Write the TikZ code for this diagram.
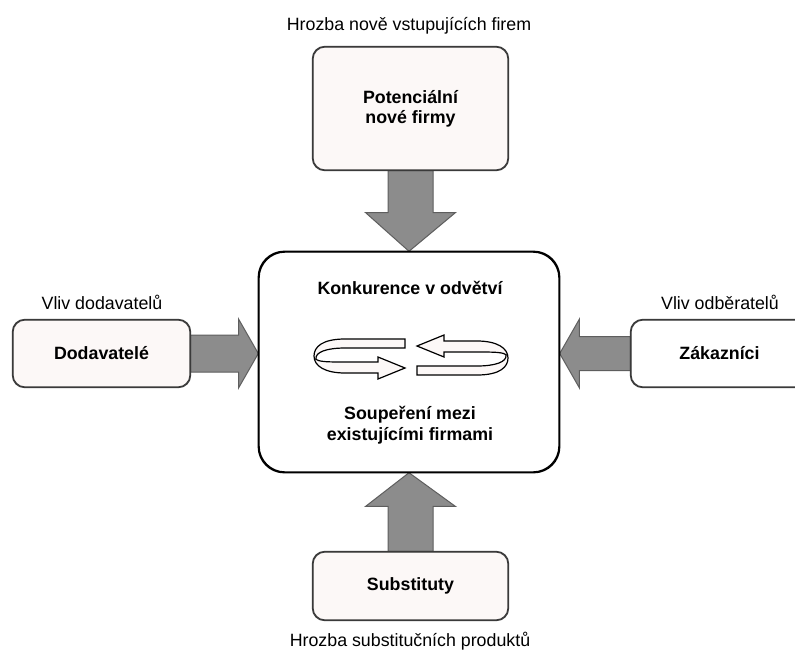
\documentclass[tikz,border=0pt]{standalone}
\usepackage{fontspec}
\setmainfont{Liberation Sans}
\usetikzlibrary{calc}
\definecolor{boxfill}{HTML}{FCF8F7}
\definecolor{arrfill}{HTML}{8C8C8C}
\definecolor{arrline}{HTML}{5E5E5E}
\definecolor{boxline}{HTML}{3A3A3A}
\begin{document}
\begin{tikzpicture}[x=1pt,y=-1pt,
  font=\fontsize{17.8}{20}\selectfont,
  smallbox/.style={draw=boxline, line width=1.1pt, fill=boxfill, rounded corners=12pt,
     inner sep=0pt, align=center, font=\fontsize{17.8}{20}\selectfont\bfseries},
  mainbox/.style={draw=black, line width=1.4pt, fill=white, rounded corners=26pt, inner sep=0pt},
  barrow/.style={draw=arrline, line width=1pt, fill=arrfill, line join=miter},
  ribbon/.style={draw=black, line width=1.2pt, fill=boxfill, line join=miter},
  lbl/.style={inner sep=0pt},
  btxt/.style={inner sep=0pt, align=center, font=\fontsize{17.8}{21}\selectfont\bfseries}]
\clip (0,0) rectangle (795,651);
\fill[white] (0,0) rectangle (795,651);

% nodes
\node[mainbox, minimum width=300pt, minimum height=220pt] (main) at (409,362) {};
\node[smallbox, minimum width=195pt, minimum height=123pt] (pot) at (410.5,108.5) {Potenciální\\nové firmy};
\node[smallbox, minimum width=177pt, minimum height=67pt] (dod) at (101.5,353.5) {Dodavatelé};
\node[smallbox, fill=white, minimum width=177pt, minimum height=67pt] (zak) at (719.5,353.5) {Zákazníci};
\node[smallbox, minimum width=195pt, minimum height=68pt] (sub) at (410.5,586) {Substituty};

% block arrows
\draw[barrow] ($(pot.south)+(-22.5,0)$) -- ++(0,42) -- ++(-22.5,0) -- (main.north)
   -- ($(pot.south)+(45,42)$) -- ++(-22.5,0) -- ($(pot.south)+(22.5,0)$) -- cycle;
\draw[barrow] ($(dod.east)+(0,-18.5)$) -- ++(48,0) -- ++(0,-16) -- (main.west |- dod.east)
   -- ($(dod.east)+(48,34.5)$) -- ++(0,-16) -- ($(dod.east)+(0,18.5)$) -- cycle;
\draw[barrow] ($(zak.west)+(0,-17)$) -- ++(-51,0) -- ++(0,-17.5) -- (main.east |- zak.west)
   -- ($(zak.west)+(-51,34.5)$) -- ++(0,-17.5) -- ($(zak.west)+(0,17)$) -- cycle;
\draw[barrow] ($(sub.north)+(-22.5,0)$) -- ++(0,-45) -- ++(-22.5,0) -- (main.south)
   -- ($(sub.north)+(45,-45)$) -- ++(-22.5,0) -- ($(sub.north)+(22.5,0)$) -- cycle;

% box borders on top of arrow ends
\draw[boxline, line width=1.1pt, rounded corners=12pt] (pot.south west) rectangle (pot.north east);
\draw[boxline, line width=1.1pt, rounded corners=12pt] (dod.south west) rectangle (dod.north east);
\draw[boxline, line width=1.1pt, rounded corners=12pt] (zak.south west) rectangle (zak.north east);
\draw[boxline, line width=1.1pt, rounded corners=12pt] (sub.south west) rectangle (sub.north east);
\draw[black, line width=1.4pt, rounded corners=26pt] (main.south west) rectangle (main.north east);

% texts inside main box
\node[btxt] (konk) at (410,288) {Konkurence v odvětví};
\node[btxt] (soup) at (410,425) {Soupeření mezi\\existujícími firmami};

% ribbon arrows
\draw[ribbon] (405,339) -- (345,339) .. controls (322,339) and (314,347) .. (314,356)
   .. controls (314,366) and (325,373) .. (345,373) -- (378,373) -- (378,379) -- (405,368)
   -- (378,357) -- (378,362) -- (345,362) .. controls (330,362) and (318,362) .. (316,359)
   .. controls (315,352) and (327,348) .. (345,348) -- (405,348) -- cycle;
\begin{scope}[rotate around={180:(411,357)}]
\draw[ribbon] (405,339) -- (345,339) .. controls (322,339) and (314,347) .. (314,356)
   .. controls (314,366) and (325,373) .. (345,373) -- (378,373) -- (378,379) -- (405,368)
   -- (378,357) -- (378,362) -- (345,362) .. controls (330,362) and (318,362) .. (316,359)
   .. controls (315,352) and (327,348) .. (345,348) -- (405,348) -- cycle;
\end{scope}

% outer labels
\node[lbl] (ltop) at (409,26) {Hrozba nově vstupujících firem};
\node[lbl] (lleft) at (102,302) {Vliv dodavatelů};
\node[lbl] (lright) at (720,302) {Vliv odběratelů};
\node[lbl] (lbot) at (410,641) {Hrozba substitučních produktů};
\end{tikzpicture}
\end{document}
